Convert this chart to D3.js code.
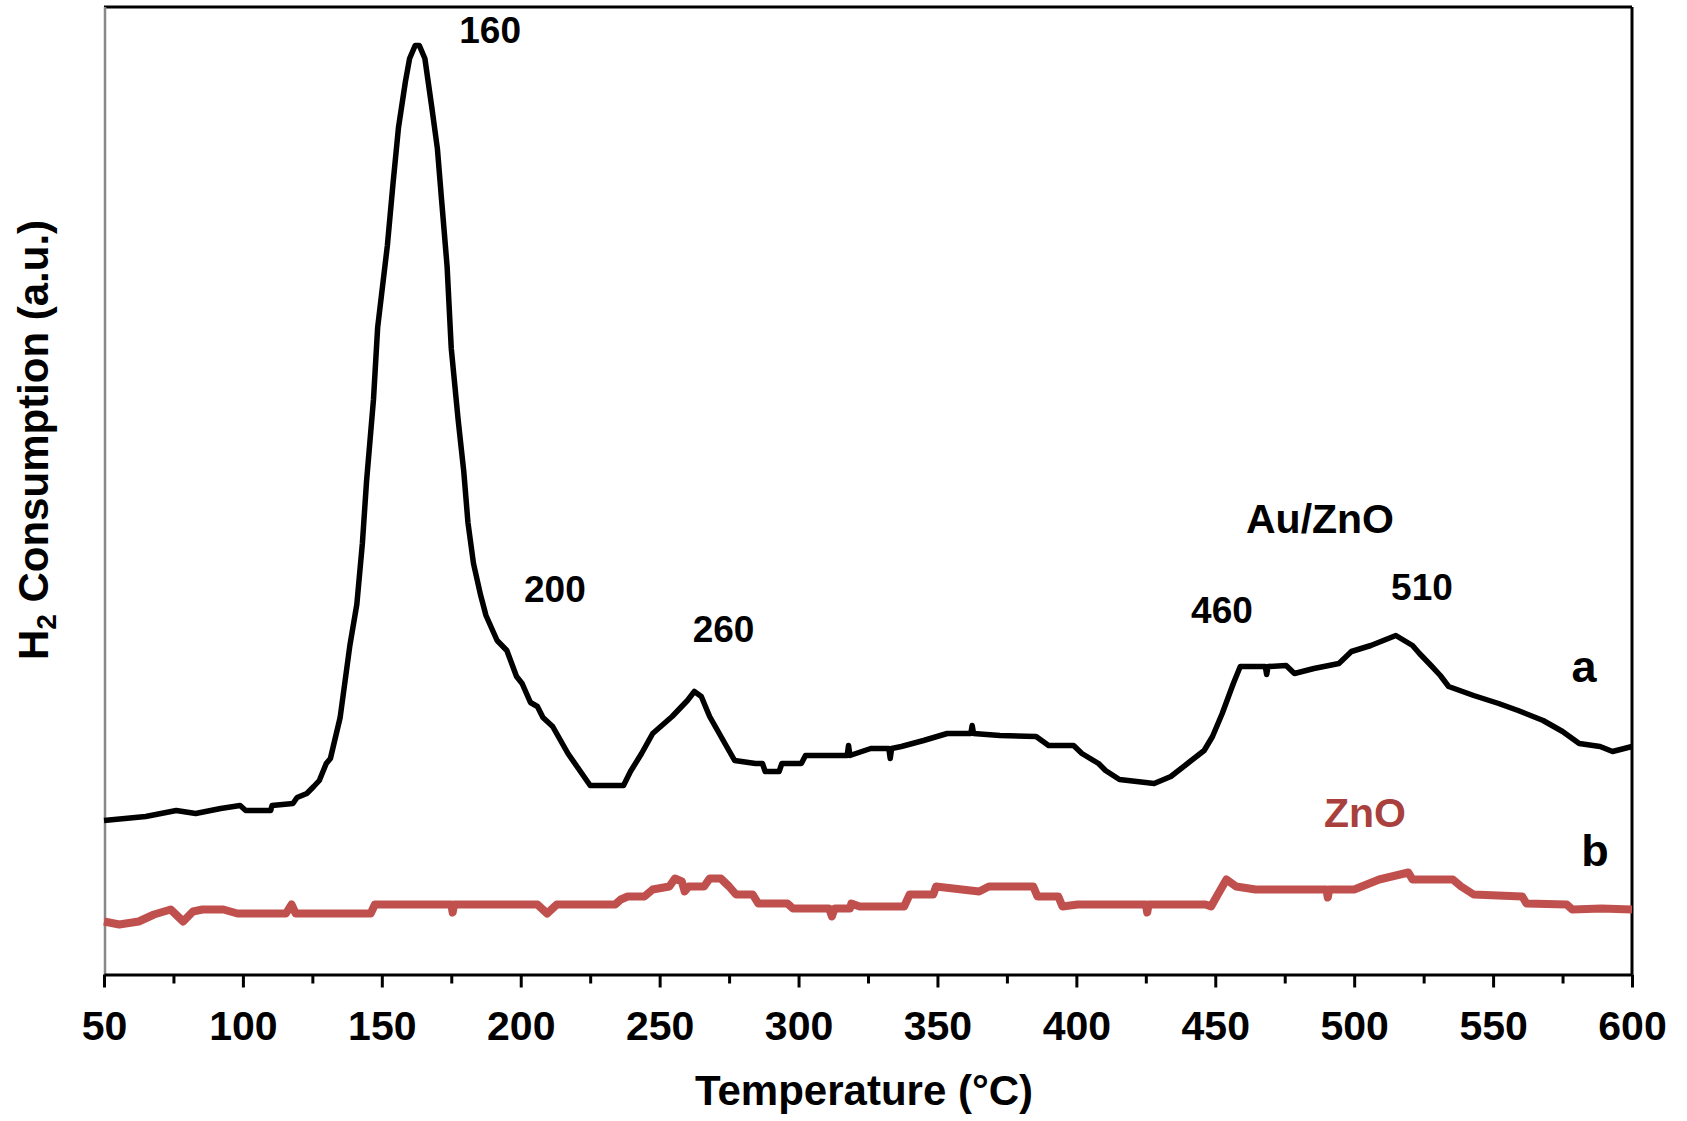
<!DOCTYPE html>
<html>
<head>
<meta charset="utf-8">
<script src="https://cdn.jsdelivr.net/npm/d3@7"></script>
<style>
  html, body { margin: 0; padding: 0; background: #ffffff; }
  svg { display: block; }
  text { font-family: "Liberation Sans", Arial, sans-serif; font-weight: bold; }
</style>
</head>
<body>
<svg id="chart" width="1687" height="1121"></svg>
<script>
// ---- Data (temperature in °C, H2 consumption in arbitrary units) ----
const xTicks = [50, 100, 150, 200, 250, 300, 350, 400, 450, 500, 550, 600];
const xMinorTicks = [75, 125, 175, 225, 275, 325, 375, 425, 475, 525, 575];

const tempAuZnO = [50,65,76,83,92,99,101,110,110.5,118,119.5,123,125.5,127.5,130,131.5,135,138.5,141,143,144.5,147,148.5,152,154,156,158.5,160,162,163.5,165.5,168,170,171.5,173.5,175,177.5,179.5,181,183,185.5,187.5,191.5,195,198.5,200.5,203.5,206,208,211.5,217,221.5,225,237,239.5,243.5,247.5,254.5,260,262.5,265,268,273.5,277,284.5,287,288,293,294,301,302.5,311,317.5,318,318.5,326,332.5,333,333.5,337,345,353.5,362,362.5,363,372.5,385.5,390,399,402,408,410.5,415.5,428,434,440,446,449,452.5,456.5,459,468,468.5,469,475.5,478.5,485.5,494.5,499,506,515,521,523.5,528,531,534,543,552,559,568,575,581,588.5,593,600];
const auZnO = [154,158,164,161,166,169,164,164,169,171,177,181,188,194,211,216,257,329,370,431,493,575,647,729,790,847,893,916,929,929,916,867,826,775,708,626,554,503,452,411,380,359,334,324,298,291,272,268,257,248,221,203,189,189,203,221,241,258,274,283,278,258,231,214,211,211,203,203,211,211,219,219,219,229,219,226,226,216,226,228,234,241,241,249,241,239,238,229,229,221,211,204,195,191,198,211,224,238,261,291,308,308,300,308,309,301,306,311,323,329,339,329,321,308,299,288,279,271,264,254,243,231,228,223,228];

const tempZnO = [50,55.5,62.5,68,74,78.5,82,85.5,93,98,115.5,117.5,119,146,147.5,175,175.5,176,206,209.5,213,234,236,238.5,244.5,247.5,253.5,255.5,258,259,260.5,266,268,272,275,277.5,283.5,285.5,296,298,306.5,311,312,313,318.5,319,322,338,340,348.5,349.5,365,368.5,384.5,386,393.5,395,400.5,425,425.5,426,446.5,448.5,450.5,454,457.5,464.5,490,490.5,491,500,509,519.5,521,535.5,538.5,543,560.5,562,576.5,578.5,589,600];
const znO = [53,50,53,60,65,53,63,65,65,61,61,70,61,61,70,70,62,70,70,61,70,70,75,78,78,85,88,96,93,83,88,88,96,96,88,80,80,71,71,66,66,66,58,66,66,71,68,68,80,80,88,83,88,88,78,78,68,70,70,62,70,70,68,78,95,88,85,85,77,85,85,95,102,95,95,88,80,78,71,70,65,66,65];

const peakLabels = ["160", "200", "260", "460", "510"];
const peakLabelT = [189, 212.3, 273, 452.4, 524.4];
const peakLabelV = [931.5, 372.5, 332.5, 351.5, 374.5];

// ---- Layout ----
const W = 1687, H = 1121;
const margin = { left: 104, right: 55, top: 7, bottom: 146.5 };
const svg = d3.select("#chart");

const x = d3.scaleLinear().domain([50, 600]).range([margin.left, W - margin.right]);
const y = d3.scaleLinear().domain([0, 967.5]).range([H - margin.bottom, margin.top]);

// frame: top and right black, left grey
svg.append("line")
  .attr("x1", x(50)).attr("x2", x(600)).attr("y1", y(967.5)).attr("y2", y(967.5))
  .attr("stroke", "#000").attr("stroke-width", 3);
svg.append("line")
  .attr("x1", x(600)).attr("x2", x(600)).attr("y1", y(967.5)).attr("y2", y(0))
  .attr("stroke", "#000").attr("stroke-width", 3);
svg.append("line")
  .attr("x1", x(50) + 1).attr("x2", x(50) + 1).attr("y1", y(967.5)).attr("y2", y(0))
  .attr("stroke", "#888888").attr("stroke-width", 2.5);

// ---- Lines ----
const lineA = d3.line().x((d, i) => x(tempAuZnO[i])).y(d => y(d)).curve(d3.curveLinear);
const lineB = d3.line().x((d, i) => x(tempZnO[i])).y(d => y(d)).curve(d3.curveLinear);

svg.append("path").datum(znO)
  .attr("d", lineB).attr("fill", "none")
  .attr("stroke", "#C0504D").attr("stroke-width", 8).attr("stroke-linejoin", "round");

svg.append("path").datum(auZnO)
  .attr("d", lineA).attr("fill", "none")
  .attr("stroke", "#000").attr("stroke-width", 5.5).attr("stroke-linejoin", "round");

// ---- X axis ----
const gx = svg.append("g").attr("transform", `translate(0,${y(0)})`);
gx.call(d3.axisBottom(x).tickValues(xTicks).tickSize(13).tickSizeOuter(0).tickPadding(20).tickFormat(d3.format("d")));
gx.select(".domain").attr("stroke", "#000").attr("stroke-width", 3);
gx.selectAll(".tick line").attr("stroke", "#000").attr("stroke-width", 3);
gx.selectAll(".tick text")
  .attr("font-size", 41).attr("font-weight", "bold")
  .attr("font-family", "Liberation Sans, Arial, sans-serif").attr("fill", "#000")
  .attr("dy", null).attr("y", 65);

const gxm = svg.append("g").attr("transform", `translate(0,${y(0)})`);
gxm.call(d3.axisBottom(x).tickValues(xMinorTicks).tickSize(9).tickFormat(""));
gxm.select(".domain").remove();
gxm.selectAll(".tick line").attr("stroke", "#000").attr("stroke-width", 3);

// axis titles
svg.append("text")
  .attr("x", 864).attr("y", 1105)
  .attr("text-anchor", "middle").attr("font-size", 42).attr("fill", "#000")
  .text("Temperature (°C)");

const yt = svg.append("text")
  .attr("transform", "translate(48,440) rotate(-90)")
  .attr("text-anchor", "middle").attr("font-size", 42).attr("fill", "#000");
yt.append("tspan").text("H");
yt.append("tspan").attr("font-size", 28).attr("dy", 8).text("2");
yt.append("tspan").attr("dy", -8).text(" Consumption (a.u.)");

// ---- Annotations ----
const ann = svg.append("g");
ann.selectAll("text.peak").data(peakLabels).join("text")
  .attr("class", "peak")
  .attr("x", (d, i) => x(peakLabelT[i]))
  .attr("y", (d, i) => y(peakLabelV[i]))
  .attr("text-anchor", "middle").attr("font-size", 37).attr("fill", "#000")
  .text(d => d);

ann.append("text").attr("x", 1320).attr("y", 533)
  .attr("text-anchor", "middle").attr("font-size", 41).attr("fill", "#000").text("Au/ZnO");
ann.append("text").attr("x", 1365).attr("y", 827)
  .attr("text-anchor", "middle").attr("font-size", 41).attr("fill", "#A8403D").text("ZnO");
ann.append("text").attr("x", 1584).attr("y", 682)
  .attr("text-anchor", "middle").attr("font-size", 45).attr("fill", "#000").text("a");
ann.append("text").attr("x", 1595).attr("y", 866)
  .attr("text-anchor", "middle").attr("font-size", 45).attr("fill", "#000").text("b");
</script>
</body>
</html>
